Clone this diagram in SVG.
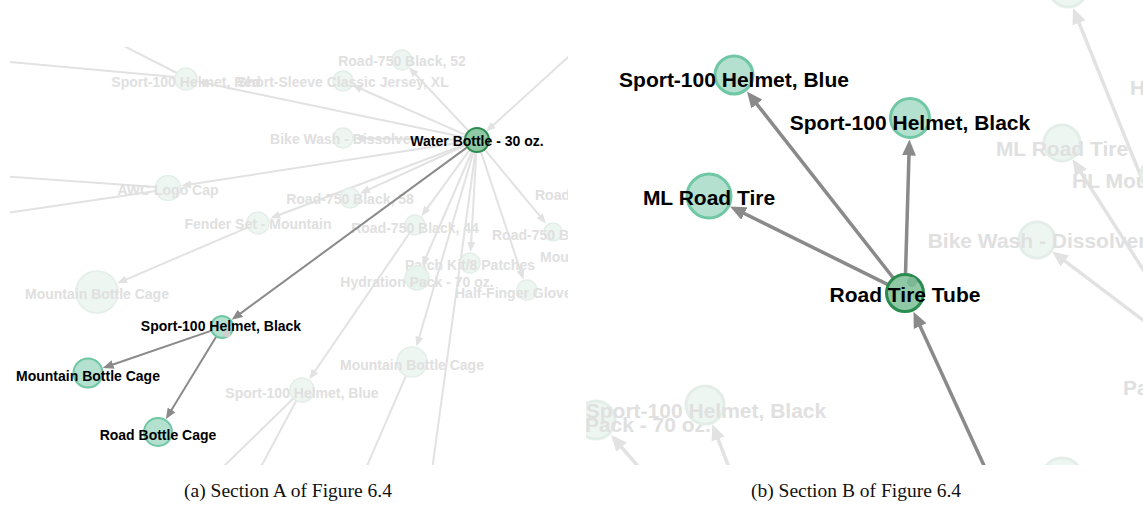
<svg xmlns="http://www.w3.org/2000/svg" width="1143" height="515" viewBox="0 0 1143 515">
  <style>
    .fe { stroke: #e2e2e2; stroke-width: 2; fill: none; }
    .fe2 { stroke: #e2e2e2; stroke-width: 3.5; fill: none; }
    .de { stroke: #8a8a8a; stroke-width: 2; fill: none; }
    .de2 { stroke: #8a8a8a; stroke-width: 3.5; fill: none; }
    .fn { fill: #eef6f2; stroke: #e4eee9; stroke-width: 1.5; }
    .fn2 { fill: #eef6f2; stroke: #e4eee9; stroke-width: 3; }
    .hn { fill: #b4e0d0; stroke: #6fc7a4; stroke-width: 2; }
    .hn2 { fill: #b4e0d0; stroke: #6fc7a4; stroke-width: 3; }
    .cn { fill: #8fc8a5; stroke: #2a8c4e; stroke-width: 2; }
    .cn2 { fill: #8fc8a5; stroke: #2a8c4e; stroke-width: 3; }
    text { font-family: "Liberation Sans", Arial, sans-serif; font-weight: bold; }
    .s { font-size: 14px; }
    .l { font-size: 21px; }
    .ft { fill: #e0e0e0; }
    .lt { fill: #000; }
    .m { text-anchor: middle; }
    .cap { font-family: "Liberation Serif", "Times New Roman", serif; font-weight: normal; font-size: 19.5px; fill: #111; text-anchor: middle; }
  </style>
  <defs>
    <marker id="afs" viewBox="0 0 10 8" refX="5" refY="4" markerWidth="10" markerHeight="8" markerUnits="userSpaceOnUse" orient="auto">
      <path d="M0,0 L10,4 L0,8 Z" fill="#e2e2e2"/>
    </marker>
    <marker id="ads" viewBox="0 0 11 9" refX="5.5" refY="4.5" markerWidth="11" markerHeight="9" markerUnits="userSpaceOnUse" orient="auto">
      <path d="M0,0 L11,4.5 L0,9 Z" fill="#8a8a8a"/>
    </marker>
    <marker id="afl" viewBox="0 0 16 14" refX="8" refY="7" markerWidth="16" markerHeight="14" markerUnits="userSpaceOnUse" orient="auto">
      <path d="M0,0 L16,7 L0,14 Z" fill="#e2e2e2"/>
    </marker>
    <marker id="adl" viewBox="0 0 16 14" refX="8" refY="7" markerWidth="16" markerHeight="14" markerUnits="userSpaceOnUse" orient="auto">
      <path d="M0,0 L16,7 L0,14 Z" fill="#8a8a8a"/>
    </marker>
    <clipPath id="clipA"><rect x="10" y="47" width="558" height="418"/></clipPath>
    <clipPath id="clipB"><rect x="586" y="0" width="557" height="465"/></clipPath>
  </defs>

  <rect width="1143" height="515" fill="#fff"/>

  <!-- Section A -->
  <g id="section-a" clip-path="url(#clipA)">
    <g id="connectors-a-faded">
      <line class="fe" x1="465.3" y1="137.5" x2="202.6" y2="82.5" marker-end="url(#afs)"/>
      <line class="fe" x1="466" y1="135.2" x2="356.8" y2="87" marker-end="url(#afs)"/>
      <line class="fe" x1="468.8" y1="131.2" x2="412.2" y2="70.9" marker-end="url(#afs)"/>
      <line class="fe" x1="590" y1="37" x2="489.6" y2="128.5" marker-end="url(#afs)"/>
      <line class="fe" x1="465" y1="139.8" x2="359" y2="138.3" marker-end="url(#afs)"/>
      <line class="fe" x1="465.1" y1="141.8" x2="186.2" y2="185.1" marker-end="url(#afs)"/>
      <line class="fe" x1="466.1" y1="145" x2="364.6" y2="191.3" marker-end="url(#afs)"/>
      <line class="fe" x1="465.8" y1="144.3" x2="275" y2="216.5" marker-end="url(#afs)"/>
      <line class="fe" x1="247.9" y1="227.3" x2="121.8" y2="281.3" marker-end="url(#afs)"/>
      <line class="fe" x1="469.9" y1="149.7" x2="424.4" y2="212.1" marker-end="url(#afs)"/>
      <line class="fe" x1="476.3" y1="152" x2="470.9" y2="247" marker-end="url(#afs)"/>
      <line class="fe" x1="484.6" y1="149.3" x2="542.8" y2="219.6" marker-end="url(#afs)"/>
      <line class="fe" x1="480.8" y1="151.4" x2="521.9" y2="274.9" marker-end="url(#afs)"/>
      <line class="fe" x1="472.2" y1="151" x2="424.2" y2="261.4" marker-end="url(#afs)"/>
      <line class="fe" x1="473.6" y1="151.5" x2="417.9" y2="341.8" marker-end="url(#afs)"/>
      <line class="fe" x1="409.4" y1="233.3" x2="312.1" y2="375.2" marker-end="url(#afs)"/>
      <line class="fe" x1="0" y1="61" x2="175" y2="77"/>
      <line class="fe" x1="112" y1="40" x2="177" y2="73"/>
      <line class="fe" x1="0" y1="176" x2="156" y2="187"/>
      <line class="fe" x1="0" y1="214" x2="156" y2="191"/>
      <line class="fe" x1="293.5" y1="398.3" x2="220" y2="470"/>
      <line class="fe" x1="296.3" y1="400.6" x2="255" y2="478"/>
      <line class="fe" x1="406" y1="375.8" x2="360" y2="482"/>
      <line class="fe" x1="475.4" y1="152" x2="430.7" y2="480"/>
    </g>

    <g id="a-sport-100-helmet-red"><circle class="fn" cx="186" cy="79" r="11"/><text class="s ft m" x="186" y="87">Sport-100 Helmet, Red</text></g>
    <g id="a-short-sleeve-jersey-xl"><circle class="fn" cx="343" cy="81" r="10"/><text class="s ft m" x="343" y="87">Short-Sleeve Classic Jersey, XL</text></g>
    <g id="a-road-750-black-52"><circle class="fn" cx="402" cy="60" r="10"/><text class="s ft m" x="402" y="66">Road-750 Black, 52</text></g>
    <g id="a-bike-wash"><circle class="fn" cx="343" cy="138" r="10"/><text class="s ft m" x="343" y="144">Bike Wash - Dissolver</text></g>
    <g id="a-awc-logo-cap"><circle class="fn" cx="168" cy="188" r="12.5"/><text class="s ft m" x="168" y="195">AWC Logo Cap</text></g>
    <g id="a-road-750-black-58"><circle class="fn" cx="350" cy="198" r="10"/><text class="s ft m" x="350" y="204">Road-750 Black, 58</text></g>
    <g id="a-fender-set"><circle class="fn" cx="258" cy="223" r="11"/><text class="s ft m" x="258" y="229">Fender Set - Mountain</text></g>
    <g id="a-road-750-black-44"><circle class="fn" cx="415" cy="225" r="10"/><text class="s ft m" x="415" y="233">Road-750 Black, 44</text></g>
    <g id="a-road-750-b"><circle class="fn" cx="553" cy="232" r="9"/><text class="s ft" x="492" y="240">Road-750 Black</text></g>
    <g id="a-road-edge"><text class="s ft" x="535" y="200">Road-750</text></g>
    <g id="a-mountain-edge"><text class="s ft" x="540" y="262">Mountain</text></g>
    <g id="a-patch-kit"><circle class="fn" cx="470" cy="263" r="10"/><text class="s ft m" x="470" y="270">Patch Kit/8 Patches</text></g>
    <g id="a-hydration-pack"><circle cx="417" cy="278" r="12" fill="#e8f4ee" stroke="#e2eee8" stroke-width="1.5"/><text class="s ft m" x="417" y="287">Hydration Pack - 70 oz.</text></g>
    <g id="a-half-finger-gloves"><circle class="fn" cx="527" cy="290" r="10"/><text class="s ft" x="455" y="298">Half-Finger Gloves</text></g>
    <g id="a-mountain-bottle-cage-faded"><circle class="fn" cx="97" cy="292" r="21"/><text class="s ft m" x="97" y="299">Mountain Bottle Cage</text></g>
    <g id="a-mountain-bottle-cage-faded-2"><circle class="fn" cx="412" cy="362" r="15"/><text class="s ft m" x="412" y="370">Mountain Bottle Cage</text></g>
    <g id="a-sport-100-helmet-blue"><circle class="fn" cx="302" cy="390" r="12"/><text class="s ft m" x="302" y="398">Sport-100 Helmet, Blue</text></g>

    <g id="connectors-a">
      <line class="de" x1="467.3" y1="147.1" x2="236.1" y2="316.6" marker-end="url(#ads)"/>
      <line class="de" x1="211.6" y1="330.6" x2="107.9" y2="366.2" marker-end="url(#ads)"/>
      <line class="de" x1="216.3" y1="336.4" x2="168.7" y2="414.5" marker-end="url(#ads)"/>
    </g>

    <g id="a-water-bottle"><circle class="cn" cx="477" cy="140" r="12"/><text class="s lt m" x="477" y="146">Water Bottle - 30 oz.</text></g>
    <g id="a-sport-100-helmet-black"><circle class="hn" cx="222" cy="327" r="11"/><circle cx="227" cy="334" r="3.5" fill="#cfcfcf"/><text class="s lt m" x="221" y="331">Sport-100 Helmet, Black</text></g>
    <g id="a-mountain-bottle-cage"><circle class="hn" cx="88" cy="373" r="14.5"/><text class="s lt m" x="88" y="381">Mountain Bottle Cage</text></g>
    <g id="a-road-bottle-cage"><circle class="hn" cx="158" cy="432" r="14"/><text class="s lt m" x="158" y="440">Road Bottle Cage</text></g>
  </g>

  <!-- Section B -->
  <g id="section-b" clip-path="url(#clipB)">
    <g id="connectors-b-faded">
      <line class="fe2" x1="1150" y1="199" x2="1076" y2="15.4" marker-end="url(#afl)"/>
      <line class="fe2" x1="1160" y1="296" x2="1076.8" y2="166.1" marker-end="url(#afl)"/>
      <line class="fe2" x1="1160" y1="333" x2="1058.4" y2="256.2" marker-end="url(#afl)"/>
      <line class="fe2" x1="650" y1="480" x2="616.3" y2="441.1" marker-end="url(#afl)"/>
      <line class="fe2" x1="735" y1="483" x2="715.2" y2="431.6" marker-end="url(#afl)"/>
    </g>

    <g id="b-top-node"><circle class="fn2" cx="1068" cy="-12" r="19"/></g>
    <g id="b-h-edge"><text class="l ft" x="1130" y="95">H</text></g>
    <g id="b-ml-road-tire-faded"><circle class="fn2" cx="1062" cy="143" r="18"/><text class="l ft m" x="1062" y="156">ML Road Tire</text></g>
    <g id="b-hl-mountain"><circle class="fn2" cx="1160" cy="175" r="19"/><text class="l ft" x="1072" y="188">HL Mountain</text></g>
    <g id="b-bike-wash"><circle class="fn2" cx="1037" cy="240" r="18"/><text class="l ft m" x="1037" y="248">Bike Wash - Dissolver</text></g>
    <g id="b-pa-edge"><text class="l ft" x="1123" y="395">Pa</text></g>
    <g id="b-bottom-node"><circle class="fn2" cx="1062" cy="478" r="20"/></g>
    <g id="b-hydration-pack"><circle class="fn2" cx="596" cy="420" r="19"/><text class="l ft m" x="596" y="432">Hydration Pack - 70 oz.</text></g>
    <g id="b-sport-100-helmet-black-faded"><circle class="fn2" cx="705" cy="405" r="19"/><text class="l ft m" x="706" y="418">Sport-100 Helmet, Black</text></g>

    <g id="connectors-b">
      <line class="de2" x1="893.3" y1="278" x2="751.9" y2="97.8" marker-end="url(#adl)"/>
      <line class="de2" x1="905.5" y1="274" x2="909.2" y2="147.5" marker-end="url(#adl)"/>
      <line class="de2" x1="888" y1="284.6" x2="737.2" y2="210" marker-end="url(#adl)"/>
      <line class="de2" x1="992" y1="483" x2="916.8" y2="318.9" marker-end="url(#adl)"/>
    </g>

    <g id="b-sport-100-helmet-blue"><circle class="hn2" cx="734" cy="75" r="19"/><text class="l lt m" x="734" y="87">Sport-100 Helmet, Blue</text></g>
    <g id="b-sport-100-helmet-black"><circle class="hn2" cx="910" cy="118" r="19.5"/><text class="l lt m" x="910" y="130">Sport-100 Helmet, Black</text></g>
    <g id="b-ml-road-tire"><circle class="hn2" cx="709" cy="196" r="22" fill="#a9d8c2"/><text class="l lt m" x="709" y="205">ML Road Tire</text></g>
    <g id="b-road-tire-tube"><circle class="cn2" cx="905" cy="293" r="18.5"/><circle cx="912" cy="282" r="5" fill="#7db896"/><text class="l lt m" x="905" y="302">Road Tire Tube</text></g>
  </g>

  <!-- captions -->
  <text class="cap" x="288" y="497">(a) Section A of Figure 6.4</text>
  <text class="cap" x="856" y="497">(b) Section B of Figure 6.4</text>
</svg>
